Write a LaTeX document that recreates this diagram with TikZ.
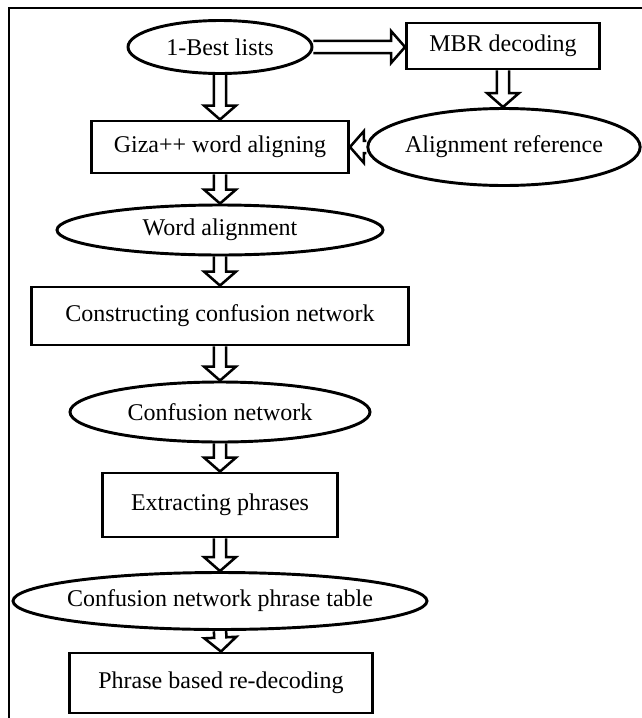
\documentclass[tikz,border=0pt]{standalone}
\usepackage{fontspec}
\setmainfont{Liberation Serif}
\usetikzlibrary{shapes.geometric, calc, positioning}
\tikzstyle{process}=[draw, rectangle, line width=2.2pt, inner sep=0pt, font=\fontsize{18}{21}\selectfont]
\tikzstyle{data}=[draw, ellipse, line width=2.2pt, inner sep=0pt, font=\fontsize{18}{21}\selectfont]
\tikzstyle{flowline}=[draw, line width=1.9pt, line join=miter]
\tikzstyle{border}=[draw, line width=1.4pt]

% hollow block arrow from #1 to #2
\newcommand{\flow}[2]{
  \coordinate (fs) at (#1);
  \coordinate (fe) at (#2);
  \coordinate (fb) at ($(fe)!10.5pt!(fs)$);
  \path[flowline] ($(fs)!4.6pt!90:(fe)$) -- ($(fb)!4.6pt!-90:(fs)$) -- ($(fb)!12pt!-90:(fs)$)
    -- (fe) -- ($(fb)!12pt!90:(fs)$) -- ($(fb)!4.6pt!90:(fs)$) -- ($(fs)!4.6pt!-90:(fe)$);
}

\begin{document}
\begin{tikzpicture}[x=0.75pt, y=-0.75pt]
      \useasboundingbox (0,0) rectangle (642,718);

      \node[data, minimum width=138pt, minimum height=39.75pt] (best) at (220,47) {1-Best lists};
      \node[process, minimum width=144.75pt, minimum height=34.5pt] (mbr) at (503,46) {MBR decoding};
      \node[process, minimum width=192.75pt, minimum height=39pt] (giza) at (220,147) {Giza++ word aligning};
      \node[data, inner xsep=-2pt, minimum width=204pt, minimum height=57.75pt] (alignref) at (504,147) {Alignment reference};
      \node[data, minimum width=244.5pt, minimum height=37.5pt] (wordalign) at (220,230) {Word alignment};
      \node[process, minimum width=282.75pt, minimum height=43.5pt] (construct) at (220,316) {Constructing confusion network};
      \node[data, minimum width=225pt, minimum height=45pt] (cnet) at (220,412) {Confusion network};
      \node[process, minimum width=176.25pt, minimum height=48pt] (extract) at (220,505) {Extracting phrases};
      \node[data, inner xsep=-7pt, minimum width=310.5pt, minimum height=42.75pt] (cntable) at (220,601) {Confusion network phrase table};
      \node[process, minimum width=227.25pt, minimum height=45pt] (redecode) at (221,683) {Phrase based re-decoding};

      \flow{best.east}{best.east -| mbr.west}
      \flow{mbr.south}{mbr.south |- alignref.north}
      \flow{alignref.west}{giza.east}
      \foreach \n/\m in {best/giza, giza/wordalign, wordalign/construct, construct/cnet,
        cnet/extract, extract/cntable, cntable/redecode}{
        \flow{\n.south}{\m.north}
      }

      \path[border] (642,8) -- (9,8) -- (9,718);

    \end{tikzpicture}
\end{document}
